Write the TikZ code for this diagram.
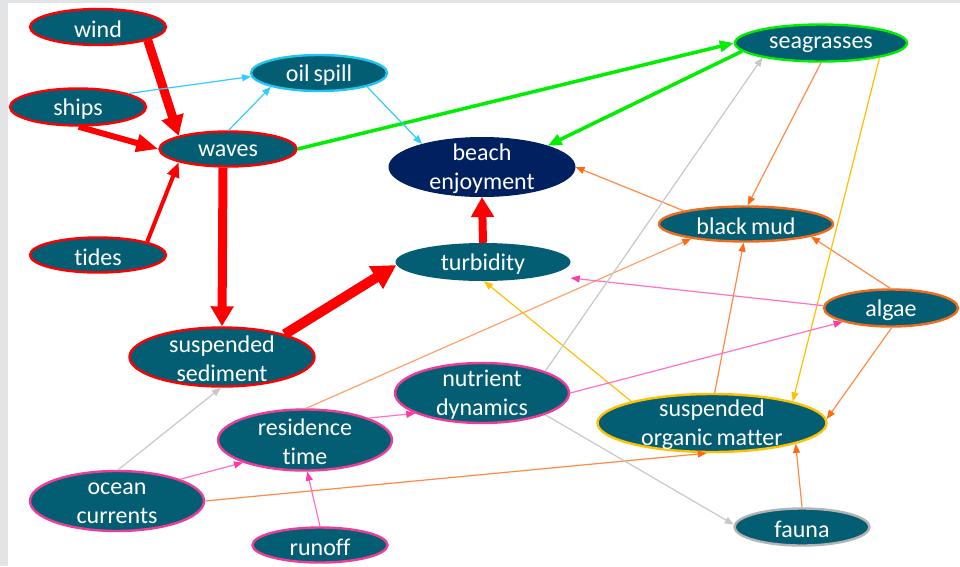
\documentclass[tikz,border=0pt]{standalone}
\usepackage{fontspec}
\setmainfont{Carlito}[Ligatures={NoCommon}]
\usetikzlibrary{shapes.geometric,arrows.meta}

\definecolor{tealfill}{HTML}{035E74}
\definecolor{navyfill}{HTML}{00205F}
\definecolor{redc}{HTML}{FF0000}
\definecolor{greenc}{HTML}{00EE00}
\definecolor{cyanc}{HTML}{33CCFF}
\definecolor{cyanb}{HTML}{22C4F0}
\definecolor{orangec}{HTML}{FF8A45}
\definecolor{orangetip}{HTML}{FF6A10}
\definecolor{orangeb}{HTML}{F26A1B}
\definecolor{goldc}{HTML}{FFC000}
\definecolor{pinkc}{HTML}{FF70C8}
\definecolor{pinktip}{HTML}{FF3AA5}
\definecolor{pinkb}{HTML}{EE3D96}
\definecolor{greyc}{HTML}{C8C8C8}
\definecolor{greyb}{HTML}{B3B3B3}
\definecolor{stripc}{HTML}{E2E4E5}

\newcommand\lblfont{\fontsize{24}{29}\selectfont}

\tikzset{
  nd/.style={ellipse, fill=tealfill, draw=#1, line width=2.4pt, inner sep=0pt},
  txt/.style={text=white, font=\lblfont, align=center, inner sep=0pt, yshift=-2pt},
  redarr/.style n args={3}{draw=redc, line width=#1,
    -{Triangle[length=#2,width=#3]}},
  grn/.style={draw=greenc, line width=3.5pt, -{Triangle[length=14pt,width=11pt]}},
  thin/.style 2 args={draw=#1, line width=1.2pt,
    -{Triangle[length=9pt,width=7pt,color=#2]}},
}

\begin{document}
\begin{tikzpicture}[x=1pt,y=-1pt]
\useasboundingbox (0,0) rectangle (960,566);
\fill[white] (0,0) rectangle (960,566);
\fill[stripc] (0,0) rectangle (8,566);
\fill[stripc] (0,0) rectangle (960,3);

% causes and physical drivers
\node[nd=redc, minimum width=136pt, minimum height=36pt, label={[txt]center:wind}] (wind) at (98,27) {};
\node[nd=redc, minimum width=136pt, minimum height=37pt, label={[txt]center:ships}] (ships) at (78,107) {};
\node[nd=redc, minimum width=137pt, minimum height=35pt, label={[txt]center:waves}] (waves) at (228,149) {};
\node[nd=redc, minimum width=136pt, minimum height=35pt, label={[txt]center:tides}] (tides) at (98,255) {};
\node[nd=redc, minimum width=185pt, minimum height=59pt, label={[txt]center:suspended\\sediment}] (sed) at (222,357) {};
\node[nd=cyanb, minimum width=136pt, minimum height=36pt, label={[txt]center:oil\,spill}] (oil) at (319,73) {};

% central outcome
\node[ellipse, fill=navyfill, draw=navyfill, line width=1pt, inner sep=0pt,
      minimum width=186pt, minimum height=59pt, label={[txt]center:beach\\enjoyment}] (beach) at (482,167) {};
\node[ellipse, fill=tealfill, inner sep=0pt, minimum width=175pt, minimum height=38pt,
      label={[txt]center:turbidity}] (turb) at (483,262) {};

% biological and chemical components
\node[nd=greenc, minimum width=172pt, minimum height=37pt, label={[txt]center:seagrasses}] (seag) at (821,43) {};
\node[nd=orangeb, minimum width=174pt, minimum height=35pt, label={[txt]center:black\,mud}] (mud) at (746,224) {};
\node[nd=orangeb, minimum width=134pt, minimum height=37pt, label={[txt]center:algae}] (algae) at (891,308) {};
\node[nd=goldc, minimum width=229pt, minimum height=58pt, label={[txt]center:suspended\\organic\,matter}] (som) at (712,423) {};
\node[nd=greyb, minimum width=135pt, minimum height=37pt, label={[txt]center:fauna}] (fauna) at (802,527) {};

% hydrodynamics
\node[nd=pinkb, minimum width=174pt, minimum height=60pt, label={[txt]center:nutrient\\dynamics}] (nutr) at (482,393) {};
\node[nd=pinkb, minimum width=174pt, minimum height=61pt, label={[txt]center:residence\\time}] (res) at (305,440) {};
\node[nd=pinkb, minimum width=174pt, minimum height=60pt, label={[txt]center:ocean\\currents}] (ocean) at (117,501) {};
\node[nd=pinkb, minimum width=135pt, minimum height=35pt, label={[txt]center:runoff}] (runoff) at (320,545) {};

% strong physical links
\draw[redarr={9pt}{20pt}{22pt}] (wind.-15) -- (waves.165);
\draw[redarr={6pt}{22pt}{17pt}] (ships.-88) -- (waves.180);
\draw[redarr={4pt}{15pt}{12pt}] (tides.15) -- (waves.-165);
\draw[redarr={9pt}{20pt}{22pt}] (waves.-105) -- (sed.90);
\draw[redarr={10pt}{24pt}{25pt}] (sed.20) -- (turb.182);
\draw[redarr={8pt}{20pt}{22pt}] (turb.90) -- (beach.-90);

% seagrass links
\draw[grn] (waves.0) -- (seag.180);
\draw[grn] (seag.-174) -- (beach.18);

% oil spill links
\draw[thin={cyanc}{cyanc}] (ships.15) -- (oil.183);
\draw[thin={cyanc}{cyanc}] (waves.88) -- (oil.-164);
\draw[thin={cyanc}{cyanc}] (oil.-16) -- (beach.159);

% organic links
\draw[thin={orangec}{orangetip}] (seag.-90) -- (mud.85);
\draw[thin={orangec}{orangetip}] (mud.168) -- (beach.0);
\draw[thin={orangec!80}{orangetip}] (res.88) -- (mud.-165);
\draw[thin={orangec}{orangetip}] (som.85) -- (mud.-97);
\draw[thin={orangec}{orangetip}] (algae.92) -- (mud.-11);
\draw[thin={orangec}{orangetip}] (algae.-88) -- (som.2);
\draw[thin={orangec}{orangetip}] (ocean.0) -- (som.-100);
\draw[thin={orangec}{orangetip}] (fauna.90) -- (som.-14);

\draw[thin={goldc}{goldc}] (seag.-14) -- (som.15);
\draw[thin={goldc}{goldc}] (som.165) -- (turb.-87);

% nutrient and circulation links
\draw[thin={pinkc}{pinktip}] (algae.178) -- ([yshift=-16pt]turb.east);
\draw[thin={pinkc}{pinktip}] (nutr.0) -- (algae.-164);
\draw[thin={pinkc}{pinktip}] (res.19) -- (nutr.-163);
\draw[thin={pinkc}{pinktip}] (ocean.19) -- (res.-160);
\draw[thin={pinkc}{pinktip}] (runoff.90) -- (res.-86);

\draw[thin={greyc}{greyc}] (ocean.88) -- (sed.-92);
\draw[thin={greyc}{greyc}] (nutr.19) -- (seag.-166);
\draw[thin={greyc}{greyc}] (nutr.-19) -- (fauna.178);
\end{tikzpicture}
\end{document}
